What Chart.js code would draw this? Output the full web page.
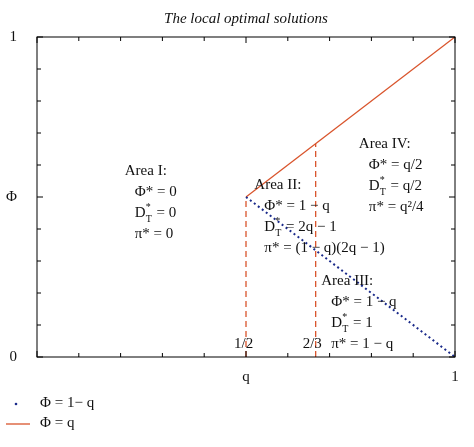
<!DOCTYPE html><html><head><meta charset="utf-8">
<script src="https://cdn.jsdelivr.net/npm/chart.js@4"></script>
<style>body{margin:0;background:#fff}#w{width:474px;height:447px}</style></head><body><div id="w"><canvas id="c"></canvas></div>
<script>
const dottedX=[0.5,1], dottedY=[0.5,0];
const solidX=[0.5,1], solidY=[0.5,1];
const dash1X=[0.5,0.5], dash1Y=[0,0.5];
const dash2X=[2/3,2/3], dash2Y=[0,2/3];
const xTickLabels={0.5:'q',1:'1'};
const yTickLabels={0:'0',0.5:'Φ',1:'1'};
const orange='#d9542c', blue='#1a2a8a';
const pts=(xs,ys)=>xs.map((x,i)=>({x,y:ys[i]}));
const texts=[
 {x:0.21,y:0.605,lines:['Area I:','Φ* = 0','D*T = 0','π* = 0']},
 {x:0.52,y:0.56,lines:['Area II:','Φ* = 1 − q','D*T = 2q − 1','π* = (1 − q)(2q − 1)']},
 {x:0.68,y:0.26,lines:['Area III:','Φ* = 1 − q','D*T = 1','π* = 1 − q']},
 {x:0.77,y:0.69,lines:['Area IV:','Φ* = q/2','D*T = q/2','π* = q²/4']}
];
const F='15px "Liberation Serif"';
const deco={id:'deco',afterDraw(ch){
 const c=ch.ctx,a=ch.chartArea,xs=ch.scales.x,ys=ch.scales.y;
 c.save();c.strokeStyle='#000';c.lineWidth=1;c.strokeRect(a.left,a.top,a.right-a.left,a.bottom-a.top);
 for(let i=0;i<=10;i++){const px=xs.getPixelForValue(i/10),py=ys.getPixelForValue(i/10);
  const L=i%5==0?6:4;
  c.beginPath();c.moveTo(px,a.bottom);c.lineTo(px,a.bottom-L);c.moveTo(px,a.top);c.lineTo(px,a.top+L);
  c.moveTo(a.left,py);c.lineTo(a.left+L,py);c.moveTo(a.right,py);c.lineTo(a.right-L,py);c.stroke();}
 c.fillStyle='#111';c.font=F;c.textAlign='left';c.textBaseline='top';
 c.fillText('1/2',xs.getPixelForValue(0.5)-12,a.bottom-20);
 c.fillText('2/3',xs.getPixelForValue(2/3)-13,a.bottom-20);
 texts.forEach(t=>{let px=xs.getPixelForValue(t.x),py=ys.getPixelForValue(t.y);
  t.lines.forEach((l,i)=>{let x0=px+(i?10:0),y0=py+i*21;
   if(l.startsWith('D*T')){c.fillText('D',x0,y0);c.font='10px "Liberation Serif"';c.fillText('*',x0+11,y0-3);c.fillText('T',x0+11,y0+9);c.font=F;c.fillText(l.slice(3),x0+18,y0);}
   else c.fillText(l,x0,y0);});});
 c.font='italic 15px "Liberation Serif"';c.textAlign='center';c.fillText('The local optimal solutions',(a.left+a.right)/2,12);
 c.textAlign='left';c.font=F;
 c.fillStyle=blue;c.beginPath();c.arc(16,404,1.3,0,7);c.fill();
 c.fillStyle='#111';c.fillText('Φ = 1− q',40,396);
 c.strokeStyle=orange;c.lineWidth=1.3;c.beginPath();c.moveTo(6,424);c.lineTo(30,424);c.stroke();
 c.fillText('Φ = q',40,416);
 c.restore();}};
new Chart(document.getElementById('c'),{type:'scatter',
 data:{datasets:[
  {data:pts(dottedX,dottedY),showLine:true,borderColor:blue,borderDash:[2,3],borderWidth:2,pointRadius:0},
  {data:pts(solidX,solidY),showLine:true,borderColor:orange,borderWidth:1.3,pointRadius:0},
  {data:pts(dash1X,dash1Y),showLine:true,borderColor:orange,borderDash:[6,4],borderWidth:1.3,pointRadius:0},
  {data:pts(dash2X,dash2Y),showLine:true,borderColor:orange,borderDash:[6,4],borderWidth:1.3,pointRadius:0}]},
 options:{responsive:true,maintainAspectRatio:false,animation:false,
  layout:{padding:{top:37,left:0,right:19,bottom:58}},
  plugins:{legend:{display:false},tooltip:{enabled:false}},
  scales:{
   x:{min:0,max:1,grid:{display:false},border:{display:false},ticks:{stepSize:0.1,autoSkip:false,maxRotation:0,color:'#111',font:{family:'Liberation Serif',size:15},callback:v=>xTickLabels[Math.round(v*10)/10]??''}},
   y:{min:0,max:1,grid:{display:false},border:{display:false},afterFit(s){s.width=37},ticks:{stepSize:0.1,autoSkip:false,color:'#111',font:{family:'Liberation Serif',size:15},padding:12,callback:v=>yTickLabels[Math.round(v*10)/10]??''}}}},
 plugins:[deco]});
</script></body></html>
